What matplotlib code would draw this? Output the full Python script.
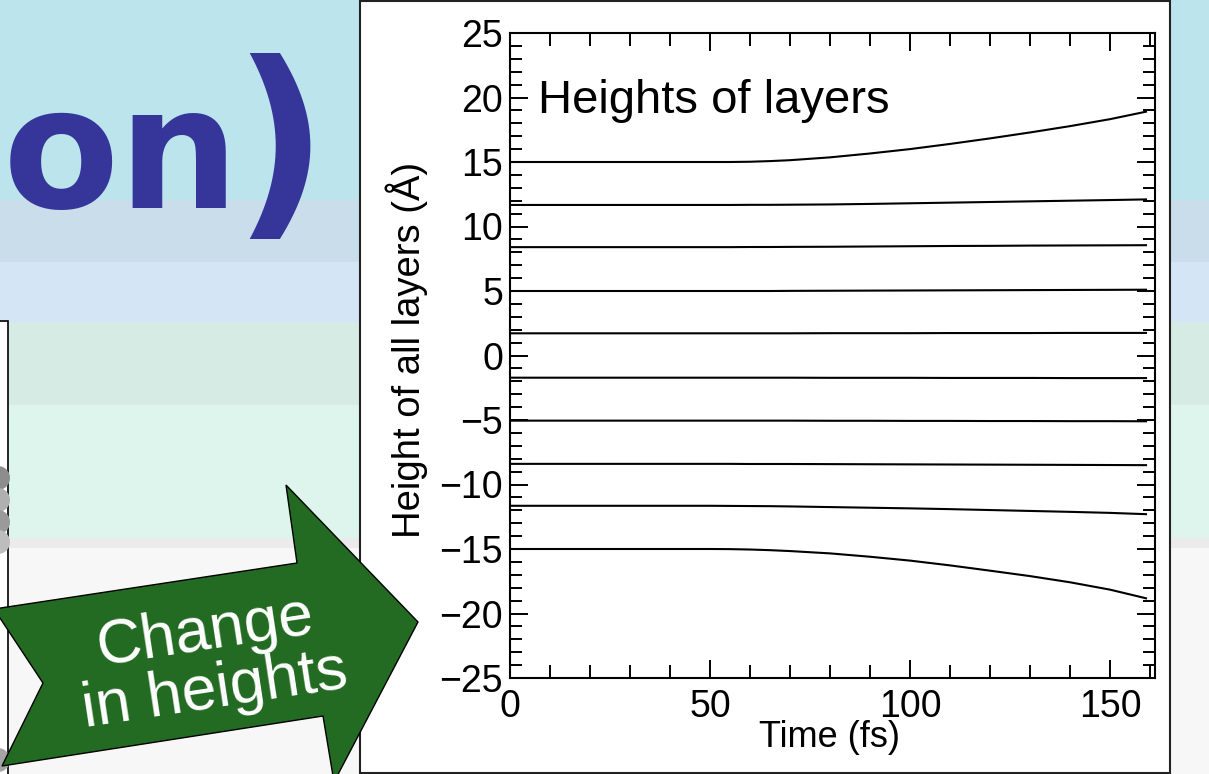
import matplotlib.pyplot as plt
import numpy as np
from matplotlib.patches import Rectangle, Polygon, Circle
from matplotlib.ticker import MultipleLocator

plt.rcParams['font.family'] = ['Liberation Sans', 'DejaVu Sans']

# time axis (fs) and the height of each layer (Angstrom)
time_fs = [0, 20, 40, 50, 55, 60, 65, 70, 80, 90, 100, 110, 120, 130, 140, 150, 159]
layer_1 = [15.0, 15.0, 15.0, 15.0, 15.0, 15.02, 15.07, 15.14, 15.36, 15.66, 16.0, 16.4, 16.83, 17.29, 17.78, 18.32, 18.9]
layer_2 = [11.67, 11.67, 11.67, 11.67, 11.67, 11.68, 11.68, 11.69, 11.71, 11.75, 11.8, 11.85, 11.9, 11.95, 12.0, 12.05, 12.1]
layer_3 = [8.4, 8.4, 8.4, 8.4, 8.4, 8.41, 8.41, 8.42, 8.43, 8.45, 8.47, 8.49, 8.5, 8.52, 8.53, 8.54, 8.55]
layer_4 = [5.0, 5.0, 5.0, 5.0, 5.0, 5.0, 5.0, 5.01, 5.02, 5.03, 5.04, 5.05, 5.06, 5.07, 5.08, 5.09, 5.1]
layer_5 = [1.72, 1.72, 1.72, 1.72, 1.72, 1.72, 1.72, 1.72, 1.73, 1.73, 1.73, 1.74, 1.74, 1.74, 1.75, 1.75, 1.75]
layer_6 = [-1.72, -1.72, -1.72, -1.72, -1.72, -1.72, -1.72, -1.72, -1.73, -1.73, -1.73, -1.74, -1.74, -1.74, -1.75, -1.75, -1.75]
layer_7 = [-5.05, -5.05, -5.05, -5.05, -5.05, -5.05, -5.05, -5.05, -5.06, -5.06, -5.07, -5.07, -5.08, -5.08, -5.09, -5.09, -5.1]
layer_8 = [-8.4, -8.4, -8.4, -8.4, -8.4, -8.41, -8.41, -8.41, -8.42, -8.43, -8.44, -8.45, -8.46, -8.47, -8.48, -8.49, -8.5]
layer_9 = [-11.65, -11.65, -11.65, -11.65, -11.66, -11.67, -11.68, -11.7, -11.75, -11.8, -11.85, -11.91, -11.98, -12.05, -12.12, -12.2, -12.3]
layer_10 = [-15.0, -15.0, -15.0, -15.0, -15.01, -15.04, -15.09, -15.16, -15.34, -15.6, -15.9, -16.27, -16.68, -17.1, -17.58, -18.15, -18.82]
layers = [layer_1, layer_2, layer_3, layer_4, layer_5,
          layer_6, layer_7, layer_8, layer_9, layer_10]

x_ticks = [0, 50, 100, 150]
y_ticks = [-25, -20, -15, -10, -5, 0, 5, 10, 15, 20, 25]

fig = plt.figure(figsize=(12.09, 7.74), dpi=100)

# slide background, drawn in pixel coordinates
bg = fig.add_axes([0, 0, 1, 1])
bg.set_xlim(0, 1209)
bg.set_ylim(774, 0)
bg.axis('off')

bands = [(0, 200, '#bce4ec'), (200, 262, '#c9ddeb'), (262, 322, '#d4e6f5'),
         (322, 405, '#d5ebe3'), (405, 538, '#def5ee'), (538, 548, '#ebebeb'),
         (548, 774, '#f7f7f7')]
for y0, y1, c in bands:
    bg.axhspan(y0, y1, color=c, lw=0)

# part of a picture at the left edge
bg.add_patch(Rectangle((-20, 321), 28, 470, fc='white', ec='black', lw=1.2))
for cy, c in [(478, '#8d8d8d'), (500, '#b0b0b0'), (522, '#9a9a9a'), (542, '#bdbdbd'), (760, '#a5a5a5')]:
    bg.add_patch(Circle((-2, cy), 12, fc=c, ec='none'))

# big title fragment
bg.text(3, 208, 'on', fontsize=122, fontweight='bold', color='#35359a',
        family='DejaVu Sans', ha='left', va='baseline')
bg.text(232, 212, ')', fontsize=150, fontweight='bold', color='#35359a',
        family='DejaVu Sans', ha='left', va='baseline')

# white panel that holds the plot
bg.add_patch(Rectangle((360, 1), 810, 772, fc='white', ec='#222222', lw=1.5))

# green arrow
arrow = [(-6, 609), (297, 563), (286, 485), (418, 622), (334, 782),
         (323, 716), (2, 766), (43, 683)]
bg.add_patch(Polygon(arrow, closed=True, fc='#236b22', ec='black', lw=1.0, zorder=5))
bg.text(210, 662, 'Change\nin heights', rotation=8.6, rotation_mode='anchor',
        ha='center', va='center', multialignment='center', color='white',
        fontsize=45, linespacing=1.0, zorder=6)

# the plot itself
ax = fig.add_axes([510 / 1209, 96 / 774, 645 / 1209, 645 / 774])
ax.set_facecolor('none')
for vals in layers:
    ax.plot(time_fs, vals, color='black', lw=1.5)

ax.set_xlim(0, 161.25)
ax.set_ylim(-25, 25)
ax.set_xticks(x_ticks)
ax.set_yticks(y_ticks)
ax.xaxis.set_minor_locator(MultipleLocator(10))
ax.yaxis.set_minor_locator(MultipleLocator(1))
ax.tick_params(which='both', direction='in', top=True, right=True, width=1.4, labelsize=27)
ax.tick_params(axis='y', which='major', length=13, pad=5)
ax.tick_params(axis='y', which='minor', length=8.5)
ax.tick_params(axis='x', which='major', length=13, pad=8)
ax.tick_params(axis='x', which='minor', length=9.5)
for s in ax.spines.values():
    s.set_linewidth(1.5)

ax.text(0.043, 0.876, 'Heights of layers', transform=ax.transAxes,
        fontsize=34, ha='left', va='baseline')
ax.set_xlabel('Time (fs)', fontsize=26, va='center')
ax.xaxis.set_label_coords(0.496, -0.0915)
ax.set_ylabel('Height of all layers (Å)', fontsize=27.5, va='center')
ax.yaxis.set_label_coords(-0.16, 0.509)

fig.savefig('out.png', dpi=100)
